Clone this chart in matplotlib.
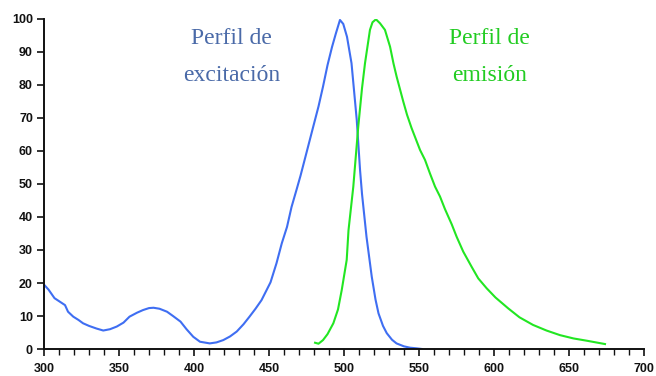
import matplotlib
matplotlib.use("Agg")
import matplotlib.pyplot as plt
from matplotlib.ticker import MultipleLocator

# excitation spectrum (wavelength nm, relative intensity %)
exc_wl = [300, 303, 307, 311, 314, 316, 319.5, 323, 326, 330, 335, 339.5, 344, 348.5,
          353, 357, 362, 366, 370, 373, 377, 382, 386, 391, 395, 399.5, 404, 410.5,
          415, 419.5, 424, 428.5, 433, 437, 441, 445, 448, 451, 455, 458.5, 462, 465,
          468.5, 471, 475, 479.5, 483, 486, 489, 492, 494.5, 497.3, 499.5, 502, 505,
          508.5, 510.7, 512, 515, 518.5, 521, 523, 526, 528.5, 532, 535, 540, 544, 548.5, 552]
exc_int = [19.5, 18.0, 15.4, 14.2, 13.3, 11.3, 9.8, 8.8, 7.8, 7.0, 6.2, 5.6, 6.0, 6.8,
           8.0, 9.8, 11.0, 11.8, 12.4, 12.5, 12.2, 11.3, 10.0, 8.3, 6.0, 3.7, 2.2, 1.7,
           2.0, 2.7, 3.8, 5.3, 7.5, 9.8, 12.2, 14.8, 17.5, 20.2, 26.0, 32.0, 37.0, 43.0,
           48.5, 52.5, 59.5, 67.4, 73.5, 79.5, 86.0, 91.5, 95.5, 99.7, 98.5, 94.6, 86.6,
           69.4, 54.2, 47.0, 34.0, 21.9, 15.0, 10.8, 7.0, 4.8, 2.8, 1.7, 0.8, 0.4, 0.2, 0.0]

# emission spectrum
emi_wl = [480.7, 483, 486, 489, 492.9, 496, 498.5, 501.8, 503, 506.2, 509.5, 512, 514,
          517.3, 519, 521.3, 524, 527.3, 530.7, 533, 535.1, 539.5, 542, 545, 550.7, 554,
          557.3, 560.7, 564, 567.3, 571.8, 575.1, 579.5, 585.1, 589.5, 595.1, 601, 609.5,
          617, 626, 635, 644, 653, 662, 668, 674]
emi_int = [1.9, 1.6, 2.7, 4.5, 7.8, 12.0, 17.9, 27.0, 36.0, 49.2, 67.4, 79.0, 86.6,
           96.7, 99.0, 99.9, 98.7, 96.7, 91.6, 86.5, 82.5, 75.0, 71.0, 67.0, 60.3, 57.3,
           53.2, 49.2, 46.2, 42.4, 37.8, 34.0, 29.5, 24.9, 21.4, 18.4, 15.6, 12.3,
           9.6, 7.3, 5.6, 4.2, 3.2, 2.5, 2.0, 1.5]

fig = plt.figure(figsize=(6.56, 3.76), dpi=100)
ax = fig.add_axes([0.0671, 0.0718, 0.9146, 0.8777])

ax.plot(exc_wl, exc_int, color="#3f6ef2", lw=1.5)
ax.plot(emi_wl, emi_int, color="#22e622", lw=1.5)

ax.set_xlim(300, 700)
ax.set_ylim(0, 100)
ax.xaxis.set_major_locator(MultipleLocator(50))
ax.xaxis.set_minor_locator(MultipleLocator(10))
ax.yaxis.set_major_locator(MultipleLocator(10))

for side in ("top", "right"):
    ax.spines[side].set_visible(False)
for side in ("left", "bottom"):
    ax.spines[side].set_linewidth(1.4)
    ax.spines[side].set_color("#111111")

ax.tick_params(which="major", length=5, width=1.2, direction="out", color="#111111",
               labelsize=9)
ax.tick_params(which="minor", length=4, width=1.0, direction="out", color="#111111")
ax.tick_params(axis="x", pad=5)
ax.tick_params(axis="y", pad=3)
for lbl in ax.get_xticklabels() + ax.get_yticklabels():
    lbl.set_fontweight("bold")
    lbl.set_fontfamily(["Liberation Sans", "DejaVu Sans"])
    lbl.set_color("#111111")

serif = ["Liberation Serif", "DejaVu Serif"]
ax.text(425, 94.0, "Perfil de", color="#4a6aa8", fontsize=17, family=serif,
        ha="center", va="center")
ax.text(425, 82.8, "excitación", color="#4a6aa8", fontsize=17, family=serif,
        ha="center", va="center")
ax.text(597, 94.0, "Perfil de", color="#22cc22", fontsize=17, family=serif,
        ha="center", va="center")
ax.text(597, 82.8, "emisión", color="#22cc22", fontsize=17, family=serif,
        ha="center", va="center")

fig.savefig("out.png", dpi=100)
